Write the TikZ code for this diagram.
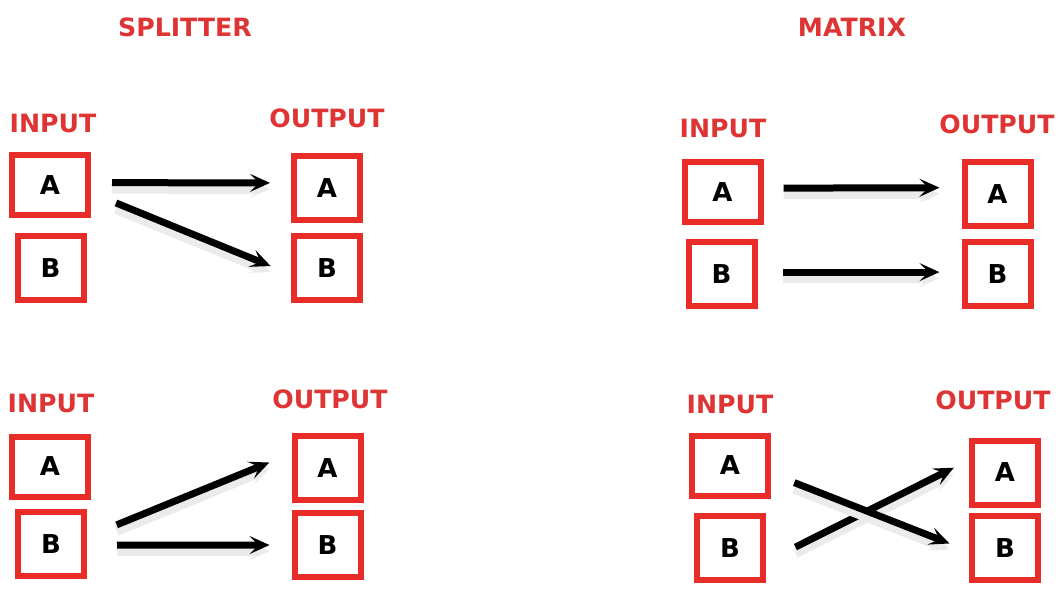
\documentclass[tikz,border=0pt]{standalone}
\usepackage{fontspec}
\setmainfont{DejaVu Sans}
\usetikzlibrary{arrows.meta}

\definecolor{boxred}{RGB}{232,44,40}
\definecolor{lblred}{RGB}{222,52,52}

\tikzset{
    lbl/.style={text=lblred,font=\bfseries\fontsize{12.6}{14}\selectfont},
    box/.style={draw=boxred,line width=3pt,minimum width=33pt,minimum height=32pt,inner sep=0pt,font=\bfseries\fontsize{13}{14}\selectfont},
    wide/.style={box,minimum width=38pt,minimum height=30pt},
    link/.style={-{Stealth[length=10pt,width=9pt,inset=4.5pt]},line width=3.5pt,
        preaction={draw=black!8,line width=5pt,transform canvas={yshift=-3pt}}}
}

\begin{document}
\begin{tikzpicture}[x=0.5pt,y=-0.5pt]
    \useasboundingbox (0,0) rectangle (1060,593);
    % Definitions
    \coordinate (SP)   at (185,27);
    \coordinate (MA)   at (852,27);
    \coordinate (S1I)  at (53,123);
    \coordinate (S1O)  at (327,118);
    \coordinate (S2I)  at (51,403);
    \coordinate (S2O)  at (330,399);
    \coordinate (M1I)  at (723,128);
    \coordinate (M1O)  at (997,124);
    \coordinate (M2I)  at (730,404);
    \coordinate (M2O)  at (993,400);
    % Titles
    \node(Spli) at (SP) [lbl] {SPLITTER};
    \node(Matr) at (MA) [lbl] {MATRIX};
    % Column labels
    \node(SpInLa1) at (S1I) [lbl] {INPUT};
    \node(SpOuLa1) at (S1O) [lbl] {OUTPUT};
    \node(SpInLa2) at (S2I) [lbl] {INPUT};
    \node(SpOuLa2) at (S2O) [lbl] {OUTPUT};
    \node(MaInLa1) at (M1I) [lbl] {INPUT};
    \node(MaOuLa1) at (M1O) [lbl] {OUTPUT};
    \node(MaInLa2) at (M2I) [lbl] {INPUT};
    \node(MaOuLa2) at (M2O) [lbl] {OUTPUT};
    % Boxes
    \node(SpInA1) at (50,185.5)   [wide] {A};
    \node(SpInB1) at (50.5,268)   [box]  {B};
    \node(SpOuA1) at (327,188)    [box]  {A};
    \node(SpOuB1) at (327,268)    [box]  {B};
    \node(SpInA2) at (50,466.5)   [wide] {A};
    \node(SpInB2) at (51,544)     [box]  {B};
    \node(SpOuA2) at (327.5,468)  [box]  {A};
    \node(SpOuB2) at (327.5,545)  [box]  {B};
    \node(MaInA1) at (722.5,192.5)[wide] {A};
    \node(MaInB1) at (721.5,274)  [box]  {B};
    \node(MaOuA1) at (997.5,194)  [box]  {A};
    \node(MaOuB1) at (997.5,274)  [box]  {B};
    \node(MaInA2) at (730,465.5)  [wide] {A};
    \node(MaInB2) at (730,548)    [box]  {B};
    \node(MaOuA2) at (1005,472.5) [box]  {A};
    \node(MaOuB2) at (1005,548)   [box]  {B};
    % Arrows
    \draw[link,shorten <=10.5pt,shorten >=10.5pt] (SpInA1.4)    -- (SpOuA1.172);
    \draw[link,shorten <=13.5pt,shorten >=11pt]   (SpInA1.-10)  -- (SpOuB1.190);
    \draw[link,shorten <=16pt,shorten >=12pt]     (SpInB2.11)   -- (SpOuA2.158);
    \draw[link,shorten <=15pt,shorten >=11pt]     (SpInB2.-2)   -- (SpOuB2.west);
    \draw[link,shorten <=10pt,shorten >=11pt]     (MaInA1.6)    -- (MaOuA1.170);
    \draw[link,shorten <=12.5pt,shorten >=11pt]   (MaInB1.3)    -- (MaOuB1.177);
    \draw[link,shorten <=16.5pt,shorten >=8.5pt]  (MaInB2.-21)  -- (MaOuA2.161);
    \draw[link,shorten <=12.5pt,shorten >=10.5pt] (MaInA2.-11)  -- (MaOuB2.185);
\end{tikzpicture}
\end{document}
